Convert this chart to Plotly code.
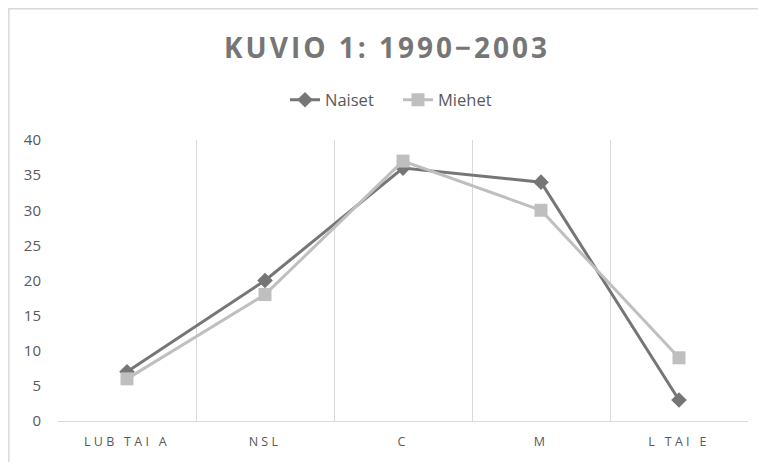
import plotly.graph_objects as go

categories = ["LUB TAI A", "NSL", "C", "M", "L TAI E"]
naiset = [7, 20, 36, 34, 3]
miehet = [6, 18, 37, 30, 9]
y_ticks = [0, 5, 10, 15, 20, 25, 30, 35, 40]

tick_text = ['<span style="letter-spacing:3.3px">%s</span>' % c for c in categories]

# The page shows the figure with an 8px offset, positions below account for it.
W, H = 766, 462
L, T, PW, PH = 50, 132, 690, 281

fig = go.Figure()
fig.add_trace(go.Scatter(
    x=categories, y=naiset, name="Naiset", mode="lines+markers",
    line=dict(color="#767676", width=3),
    marker=dict(symbol="diamond", size=12, color="#767676"),
))
fig.add_trace(go.Scatter(
    x=categories, y=miehet, name="Miehet", mode="lines+markers",
    line=dict(color="#BFBFBF", width=3),
    marker=dict(symbol="square", size=13, color="#BFBFBF"),
))

fig.update_layout(
    width=W, height=H,
    margin=dict(l=L, r=W - L - PW, t=T, b=H - T - PH, autoexpand=False),
    paper_bgcolor="white", plot_bgcolor="white",
    title=dict(text='<b><span style="letter-spacing:3px">KUVIO 1: 1990−2003</span></b>',
               x=379 / W, xanchor="center", xref="container",
               y=1 - 40 / H, yanchor="middle", yref="container",
               font=dict(family="Open Sans", size=28, color="#767676")),
    legend=dict(orientation="h", x=277 / W, xanchor="left", y=1 - 92 / H,
                yref="container", xref="container", yanchor="middle",
                font=dict(family="Open Sans", size=16.5, color="#595959"),
                itemwidth=30, tracegroupgap=0, entrywidth=68,
                entrywidthmode="pixels"),
    showlegend=True,
    font=dict(family="Open Sans", color="#595959"),
    shapes=[dict(type="rect", xref="paper", yref="paper",
                 x0=(0.8 - L) / PW, x1=1.2, y0=-1, y1=1 + (T - 0.8) / PH,
                 line=dict(color="#D9D9D9", width=1.5), fillcolor="rgba(0,0,0,0)",
                 layer="below")],
)
fig.update_xaxes(
    type="category", tickson="boundaries", showgrid=True, gridcolor="#D9D9D9",
    gridwidth=1, showline=True, linecolor="#D9D9D9", linewidth=1,
    range=[-0.5, 4.5], tickvals=categories, ticktext=tick_text,
    ticks="", automargin=False, ticklabelstandoff=9,
    tickfont=dict(family="Open Sans", size=12.5, color="#595959"),
    zeroline=False,
)
fig.update_yaxes(
    range=[0, 40], tickvals=y_ticks, showgrid=False, zeroline=False,
    showline=False, ticks="", ticklen=0, automargin=False,
    ticklabelstandoff=16,
    tickfont=dict(family="Open Sans", size=15, color="#595959"),
)

fig.write_html("out.html")
